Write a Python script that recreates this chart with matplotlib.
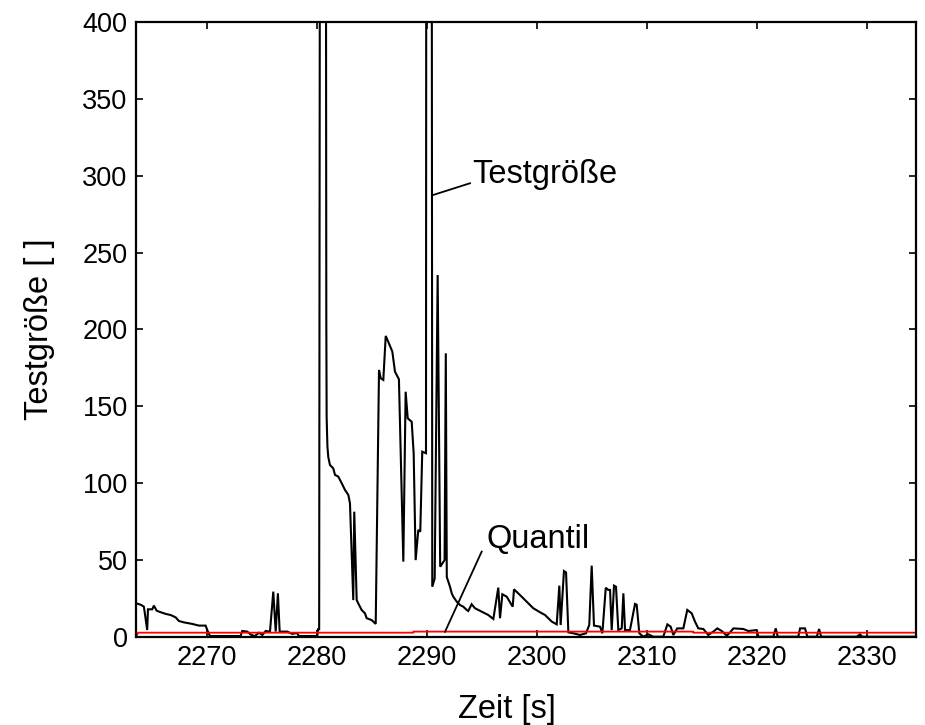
import matplotlib
matplotlib.use("Agg")
import matplotlib.pyplot as plt

plt.rcParams['font.family'] = ['Liberation Sans', 'DejaVu Sans']

# ---- data ----
time_s = [
    2263.61, 2264.03, 2264.27, 2264.57, 2264.64, 2265.03, 2265.18, 2265.43, 2265.64,
    2266.25, 2266.70, 2267.15, 2267.45, 2267.91, 2268.66, 2269.27, 2269.88, 2270.03,
    2270.27, 2273.06, 2273.21, 2273.66, 2274.03, 2274.36, 2274.73, 2275.03, 2275.34,
    2275.73, 2276.03, 2276.25, 2276.45, 2276.61, 2277.30, 2277.75, 2278.18, 2278.36,
    2280.03, 2280.09, 2280.20, 2280.34, 2280.75, 2280.85, 2280.88, 2280.95, 2281.03,
    2281.18, 2281.48, 2281.64, 2281.94, 2282.25, 2282.55, 2282.85, 2283.00, 2283.30,
    2283.39, 2283.61, 2283.75, 2284.06, 2284.36, 2284.52, 2284.97, 2285.34, 2285.64,
    2285.79, 2286.03, 2286.25, 2286.48, 2286.85, 2287.09, 2287.45, 2287.85, 2288.06,
    2288.25, 2288.61, 2288.79, 2288.97, 2289.21, 2289.39, 2289.57, 2289.91, 2289.97,
    2290.38, 2290.48, 2290.70, 2290.97, 2291.20, 2291.60, 2291.71, 2291.80, 2292.09,
    2292.25, 2292.39, 2292.70, 2293.00, 2293.30, 2293.61, 2293.75, 2294.06, 2294.36,
    2294.97, 2295.57, 2296.03, 2296.48, 2296.64, 2296.85, 2297.25, 2297.79, 2297.91,
    2298.45, 2299.06, 2299.66, 2300.27, 2300.73, 2301.34, 2301.79, 2302.03, 2302.15,
    2302.45, 2302.64, 2302.85, 2303.30, 2303.91, 2304.45, 2304.75, 2304.97, 2305.18,
    2305.73, 2305.94, 2306.25, 2306.48, 2306.64, 2306.79, 2307.00, 2307.18, 2307.39,
    2307.70, 2307.85, 2308.00, 2308.45, 2308.91, 2309.06, 2309.30, 2309.66, 2310.12,
    2310.57, 2311.48, 2311.85, 2312.15, 2312.39, 2312.75, 2313.30, 2313.66, 2314.06,
    2314.36, 2314.66, 2315.12, 2315.57, 2316.03, 2316.39, 2316.79, 2317.25, 2317.55,
    2317.85, 2318.75, 2319.21, 2319.97, 2320.12, 2321.48, 2321.70, 2321.88, 2323.75,
    2323.91, 2324.36, 2324.57, 2325.43, 2325.64, 2325.82, 2329.06, 2329.36, 2329.55,
    2334.45,
]
testgroesse = [
    21.9, 20.8, 19.7, 4.5, 18.0, 18.0, 20.4, 17.1, 16.5,
    15.0, 14.3, 12.8, 10.4, 9.5, 8.5, 7.4, 7.4, 4.5,
    0.6, 0.6, 3.9, 3.5, 1.3, 0.6, 2.8, 1.3, 3.9,
    3.5, 29.5, 3.5, 28.4, 3.5, 3.5, 2.0, 2.6, 0.6,
    0.6, 5.0, 5.0, 1000.0, 1000.0, 206.0, 143.0, 124.0, 117.0,
    111.9, 109.7, 105.4, 104.3, 100.0, 95.6, 92.4, 87.0, 24.0,
    81.5, 24.0, 21.9, 17.6, 15.4, 12.2, 11.0, 8.5, 173.7,
    168.3, 167.2, 195.8, 192.0, 185.6, 172.6, 167.6, 49.0, 159.5,
    142.2, 140.0, 119.5, 50.0, 69.6, 68.5, 120.5, 119.5, 1000.0,
    1000.0, 32.7, 38.0, 235.4, 45.7, 50.0, 184.5, 39.0, 32.7,
    28.4, 26.2, 23.0, 20.8, 19.7, 17.6, 16.9, 21.3, 18.7,
    16.5, 14.3, 11.7, 32.1, 12.2, 27.8, 26.2, 19.7, 31.0,
    27.3, 23.0, 18.7, 16.1, 14.3, 10.0, 8.2, 33.4, 7.8,
    42.9, 42.0, 3.0, 2.4, 1.3, 2.4, 7.8, 46.4, 7.4,
    6.7, 2.4, 32.0, 30.6, 30.6, 4.5, 33.4, 32.7, 4.5,
    5.6, 28.4, 4.5, 4.5, 21.5, 21.0, 2.4, 0.2, 1.7,
    0.2, 0.2, 8.2, 6.7, 1.3, 5.6, 5.6, 17.6, 15.4,
    10.0, 5.6, 5.2, 1.3, 3.5, 5.6, 3.9, 0.9, 3.0,
    5.6, 5.2, 3.9, 4.5, 0.2, 0.2, 5.6, 0.2, 0.2,
    5.6, 5.6, 0.2, 0.2, 5.2, 0.2, 0.2, 1.7, 0.2,
    0.2,
]
quantil_t = [2263.55, 2263.76, 2288.76, 2288.77, 2314.2, 2314.21, 2334.45]
quantil_v = [0.0, 2.8, 2.8, 3.5, 3.5, 2.8, 2.8]

x_ticks = [2270, 2280, 2290, 2300, 2310, 2320, 2330]
y_ticks = [0, 50, 100, 150, 200, 250, 300, 350, 400]
x_range = (2263.55, 2334.45)
y_range = (0, 400)

# ---- figure ----
fig = plt.figure(figsize=(9.25, 7.25), dpi=100)
ax = fig.add_axes([0.147, 0.1214, 0.8433, 0.8483])

ax.plot(time_s, testgroesse, color='black', lw=1.5, solid_joinstyle='miter')
ax.plot(quantil_t, quantil_v, color='red', lw=1.3)

ax.set_xlim(*x_range)
ax.set_ylim(*y_range)
ax.set_xticks(x_ticks)
ax.set_yticks(y_ticks)
ax.tick_params(direction='in', top=True, right=True, length=5, width=1.2,
               labelsize=19.5, pad=6)
for sp in ax.spines.values():
    sp.set_linewidth(1.6)

ax.set_xlabel('Zeit [s]', fontsize=23.5)
ax.set_ylabel('Testgröße [ ]', fontsize=23.5)
ax.xaxis.set_label_coords(0.476, -0.092)
ax.yaxis.set_label_coords(-0.104, 0.5)

# annotations
ax.plot([2290.57, 2293.91], [287.5, 295.1], color='black', lw=1.3)
ax.text(2294.1, 295.3, 'Testgröße', fontsize=23.5, ha='left', va='baseline')
ax.plot([2291.64, 2294.97], [3.4, 55.5], color='black', lw=1.3)
ax.text(2295.43, 57.9, 'Quantil', fontsize=23.5, ha='left', va='baseline')

fig.savefig('out.png', dpi=100)
